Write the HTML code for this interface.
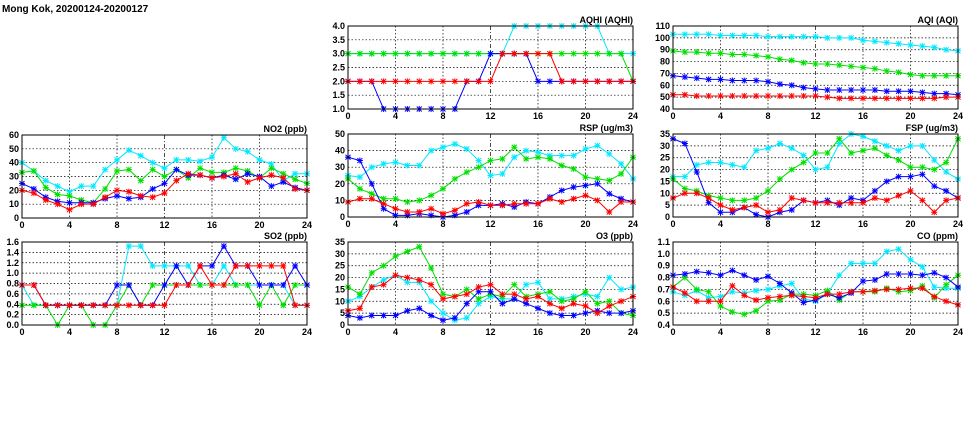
<!DOCTYPE html>
<html><head><meta charset="utf-8"><style>
html,body{margin:0;padding:0;background:#fff;width:975px;height:447px;overflow:hidden}
svg{display:block}
text{font-family:"Liberation Sans",sans-serif;font-size:9px;font-weight:bold;fill:#000}
</style></head><body>
<svg id="s" width="975" height="447" xmlns="http://www.w3.org/2000/svg">
<text x="2" y="12" style="font-size:10px">Mong Kok, 20200124-20200127</text>
</svg>
<script>
const C={c:"#00e8ff",g:"#00e000",b:"#0000ff",r:"#ff0000"};
const P=[
{t:"NO2 (ppb)",x:22,y:135,min:0,max:60,step:10,dec:0,d:{
c:[40,34,27,23,19,23,23,35,42,49,45,40,36,42,42,41,44,58,50,48,42,39,27,32,32],
g:[33,34,22,17,16,13,11,21,34,35,27,35,30,35,29,36,33,33,36,34,29,36,32,28,25],
b:[25,21,15,12,11,11,11,14,16,14,15,21,25,35,31,31,29,31,28,32,30,23,26,22,20],
r:[20,18,13,10,6,10,10,15,20,19,16,15,18,27,32,31,29,30,32,26,29,31,29,21,20]}},
{t:"SO2 (ppb)",x:22,y:242,min:0,max:1.6,step:0.2,dec:1,d:{
c:[.77,.38,.38,.38,.38,.38,.38,.38,.38,1.52,1.52,1.14,1.14,1.14,1.14,.77,.77,1.14,.77,.77,.77,.77,.77,.38,.38],
g:[.38,.38,.38,0,.38,.38,0,0,.38,.77,.38,.77,.77,.77,.77,.77,.77,.77,.77,.77,.38,.77,.38,.77,.77],
b:[.77,.77,.38,.38,.38,.38,.38,.38,.77,.77,.38,.38,.77,1.14,.77,1.14,1.14,1.52,1.14,1.14,.77,.77,.77,1.14,.77],
r:[.77,.77,.38,.38,.38,.38,.38,.38,.38,.38,.38,.38,.38,.77,.77,1.14,.77,.77,1.14,1.14,1.14,1.14,1.14,.38,.38]}},
{t:"AQHI (AQHI)",x:348,y:26,min:1,max:4,step:0.5,dec:1,d:{
c:[3,3,3,3,3,3,3,3,3,3,3,3,3,3,4,4,4,4,4,4,4,4,3,3,3],
g:[3,3,3,3,3,3,3,3,3,3,3,3,3,3,3,3,3,3,3,3,3,3,3,3,2],
b:[2,2,2,1,1,1,1,1,1,1,2,2,3,3,3,3,2,2,2,2,2,2,2,2,2],
r:[2,2,2,2,2,2,2,2,2,2,2,2,2,3,3,3,3,3,2,2,2,2,2,2,2]}},
{t:"RSP (ug/m3)",x:348,y:134,min:0,max:50,step:10,dec:0,d:{
c:[25,24,30,32,33,31,31,40,42,44,41,34,25,26,36,40,39,37,37,37,41,43,38,32,23],
g:[23,17,14,11,11,9,10,13,17,23,27,30,34,35,42,35,36,35,31,29,24,23,22,26,36],
b:[36,34,20,5,1,1,2,1,0,1,3,7,7,8,6,9,8,12,16,18,19,20,14,11,9],
r:[9,11,11,8,5,3,3,5,2,4,8,9,7,7,8,8,8,11,9,11,13,10,3,9,9]}},
{t:"O3 (ppb)",x:348,y:242,min:0,max:35,step:5,dec:0,d:{
c:[10,12,16,19,21,18,18,10,5,2,3,9,12,11,11,17,18,11,11,12,13,12,20,15,16],
g:[16,13,22,25,29,31,33,24,13,12,15,11,13,12,17,12,13,14,10,11,14,9,10,5,4],
b:[4,3,4,4,4,6,7,4,2,3,9,14,14,9,11,9,7,5,4,4,5,6,5,5,6],
r:[6,7,16,17,21,20,19,17,11,12,13,16,17,13,13,11,12,9,7,9,8,5,8,10,12]}},
{t:"AQI (AQI)",x:673,y:26,min:40,max:110,step:10,dec:0,d:{
c:[103,103,103,103,102,102,102,102,101,101,101,101,101,100,100,100,98,97,96,95,94,93,92,90,89],
g:[89,88,88,87,87,86,86,85,84,82,81,79,78,78,77,76,75,74,72,71,69,68,68,68,68],
b:[68,67,66,65,65,64,64,64,63,61,60,58,57,56,56,56,56,56,55,55,55,54,53,53,52],
r:[52,52,51,51,51,51,51,51,51,51,51,51,51,50,49,49,49,49,49,49,49,49,49,50,50]}},
{t:"FSP (ug/m3)",x:673,y:134,min:0,max:35,step:5,dec:0,d:{
c:[17,17,22,23,23,22,21,28,29,31,29,26,20,21,31,35,34,32,30,28,30,30,24,19,16],
g:[16,12,11,9,8,7,7,8,11,16,20,23,27,27,33,27,28,29,26,24,21,21,20,23,33],
b:[33,31,19,6,2,2,4,1,0,2,3,7,6,7,5,8,7,11,15,17,17,18,13,11,8],
r:[8,10,10,8,5,3,4,5,2,3,8,7,6,6,6,6,6,8,7,9,11,7,2,7,8]}},
{t:"CO (ppm)",x:673,y:242,min:0.4,max:1.1,step:0.1,dec:1,d:{
c:[.68,.65,.69,.63,.64,.68,.67,.69,.70,.73,.75,.62,.60,.66,.82,.92,.92,.92,1.02,1.04,.95,.89,.72,.71,.71],
g:[.72,.80,.70,.68,.56,.51,.49,.52,.60,.61,.66,.66,.65,.69,.61,.68,.68,.68,.71,.68,.69,.73,.63,.74,.82],
b:[.82,.83,.85,.84,.82,.86,.82,.78,.81,.75,.67,.59,.61,.66,.63,.67,.77,.78,.83,.83,.83,.82,.84,.80,.72],
r:[.72,.67,.60,.60,.60,.73,.65,.61,.63,.64,.65,.64,.63,.66,.66,.68,.68,.69,.70,.70,.71,.71,.64,.60,.57]}}
];
const W=285,H=83;let o="";
for(const p of P){
 const X=i=>p.x+i*W/24,Y=v=>p.y+H-(v-p.min)/(p.max-p.min)*H;
 o+=`<text x="${p.x+W}" y="${p.y-3}" text-anchor="end">${p.t}</text>`;
 const n=Math.round((p.max-p.min)/p.step);
 for(let k=0;k<=n;k++){const v=p.min+k*p.step,y=Y(v);
  if(k>0&&k<n)o+=`<line x1="${p.x}" x2="${p.x+W}" y1="${y}" y2="${y}" stroke="#000" stroke-width="0.7" stroke-dasharray="1.5,2"/>`;
  o+=`<text x="${p.x-3}" y="${y+3}" text-anchor="end">${v.toFixed(p.dec)}</text>`;}
 for(let h=0;h<=24;h+=4){const x=X(h);
  if(h>0&&h<24)o+=`<line x1="${x}" x2="${x}" y1="${p.y}" y2="${p.y+H}" stroke="#000" stroke-width="0.7" stroke-dasharray="${h==12?'4,2,1,2':'1.5,2'}"/>`;
  o+=`<text x="${x}" y="${p.y+H+10}" text-anchor="middle">${h}</text>`;}
 for(const k of ["c","g","b","r"]){const a=p.d[k];
  o+=`<polyline fill="none" stroke="${C[k]}" stroke-width="1" points="${a.map((v,i)=>X(i)+","+Y(v)).join(" ")}"/>`;
  for(let i=0;i<a.length;i++){const x=X(i),y=Y(a[i]);
   o+=`<path d="M${x-2.5},${y-2.5}L${x+2.5},${y+2.5}M${x-2.5},${y+2.5}L${x+2.5},${y-2.5}M${x},${y-3}V${y+3}M${x-3},${y}H${x+3}" stroke="${C[k]}" stroke-width="1"/>`;}}
 o+=`<rect x="${p.x}" y="${p.y}" width="${W}" height="${H}" fill="none" stroke="#000" stroke-width="1"/>`;
}
document.getElementById("s").insertAdjacentHTML("beforeend",o);
</script>
</body></html>
